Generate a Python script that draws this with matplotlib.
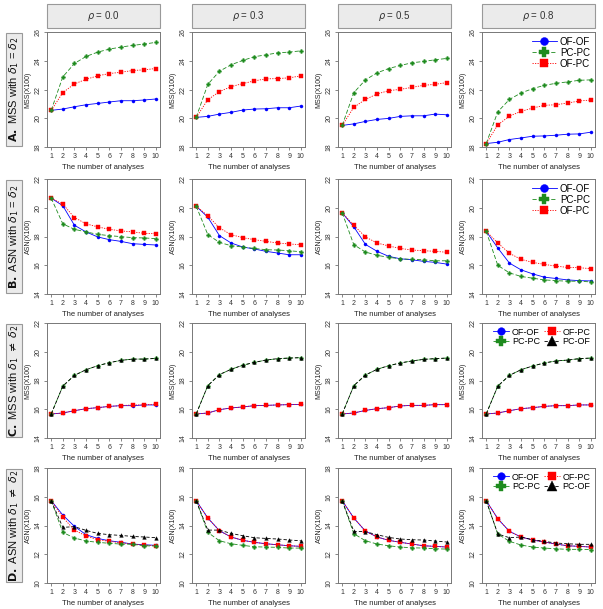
import matplotlib
matplotlib.use("Agg")
import matplotlib.pyplot as plt
from matplotlib.patches import Rectangle
import numpy as np

plt.rcParams['font.family'] = ['Liberation Sans', 'DejaVu Sans']
plt.rcParams['mathtext.fontset'] = 'dejavusans'

x = np.arange(1, 11)
rhos = ["0.0", "0.3", "0.5", "0.8"]

### A. MSS with d1 = d2
a_ofof = [[20.55, 20.64, 20.80, 20.94, 21.03, 21.13, 21.22, 21.22, 21.27, 21.34],
          [20.06, 20.13, 20.29, 20.41, 20.57, 20.64, 20.66, 20.73, 20.73, 20.85],
          [19.50, 19.61, 19.78, 19.92, 19.99, 20.13, 20.17, 20.17, 20.29, 20.24],
          [18.24, 18.33, 18.52, 18.63, 18.75, 18.77, 18.82, 18.89, 18.91, 19.03]]
a_pcpc = [[20.55, 22.88, 23.81, 24.30, 24.60, 24.81, 24.95, 25.07, 25.16, 25.28],
          [20.06, 22.36, 23.27, 23.72, 24.02, 24.28, 24.41, 24.55, 24.60, 24.69],
          [19.50, 21.78, 22.67, 23.16, 23.46, 23.67, 23.86, 23.95, 24.07, 24.16],
          [18.24, 20.45, 21.31, 21.76, 22.06, 22.29, 22.43, 22.53, 22.64, 22.67]]
a_ofpc = [[20.55, 21.78, 22.39, 22.71, 22.95, 23.11, 23.20, 23.32, 23.37, 23.46],
          [20.06, 21.29, 21.85, 22.20, 22.41, 22.60, 22.74, 22.76, 22.81, 22.95],
          [19.50, 20.76, 21.31, 21.69, 21.92, 22.01, 22.15, 22.29, 22.36, 22.48],
          [18.24, 19.54, 20.15, 20.48, 20.71, 20.90, 20.94, 21.06, 21.20, 21.27]]

### B. ASN with d1 = d2
b_ofof = [[20.67, 20.14, 18.78, 18.32, 17.97, 17.78, 17.66, 17.50, 17.45, 17.41],
          [20.11, 19.34, 18.06, 17.55, 17.27, 17.13, 16.97, 16.85, 16.73, 16.73],
          [19.65, 18.67, 17.45, 16.97, 16.62, 16.45, 16.38, 16.27, 16.20, 16.08],
          [18.36, 17.20, 16.15, 15.68, 15.40, 15.17, 15.08, 14.98, 14.93, 14.91]]
b_pcpc = [[20.67, 18.88, 18.50, 18.32, 18.15, 18.06, 17.99, 17.92, 17.90, 17.85],
          [20.11, 18.13, 17.59, 17.36, 17.27, 17.17, 17.08, 17.06, 17.01, 16.94],
          [19.65, 17.43, 16.92, 16.69, 16.55, 16.45, 16.41, 16.38, 16.31, 16.31],
          [18.36, 15.99, 15.47, 15.22, 15.10, 14.98, 14.93, 14.89, 14.89, 14.84]]
b_ofpc = [[20.67, 20.25, 19.32, 18.88, 18.67, 18.50, 18.39, 18.32, 18.22, 18.20],
          [20.11, 19.44, 18.60, 18.13, 17.92, 17.78, 17.66, 17.55, 17.48, 17.43],
          [19.65, 18.78, 17.97, 17.55, 17.34, 17.17, 17.06, 17.01, 16.97, 16.90],
          [18.36, 17.55, 16.83, 16.41, 16.20, 16.06, 15.94, 15.85, 15.83, 15.76]]

### C. MSS with d1 != d2
c_ofof = [[15.67, 15.74, 15.90, 16.04, 16.11, 16.20, 16.25, 16.25, 16.30, 16.30],
          [15.67, 15.74, 15.97, 16.09, 16.16, 16.25, 16.27, 16.30, 16.32, 16.34],
          [15.67, 15.74, 15.92, 16.04, 16.11, 16.23, 16.27, 16.27, 16.32, 16.32],
          [15.67, 15.74, 15.90, 16.04, 16.11, 16.20, 16.25, 16.25, 16.30, 16.30]]
c_ofpc = [[15.67, 15.74, 15.90, 16.04, 16.11, 16.20, 16.25, 16.30, 16.30, 16.36],
          [15.67, 15.74, 15.97, 16.09, 16.16, 16.25, 16.27, 16.30, 16.32, 16.34],
          [15.67, 15.74, 15.92, 16.04, 16.11, 16.23, 16.27, 16.27, 16.32, 16.32],
          [15.67, 15.74, 15.90, 16.04, 16.11, 16.20, 16.25, 16.25, 16.30, 16.30]]
c_pcpc = [[15.67, 17.61, 18.36, 18.75, 19.03, 19.24, 19.40, 19.49, 19.49, 19.54],
          [15.67, 17.64, 18.41, 18.78, 19.06, 19.26, 19.42, 19.52, 19.56, 19.59],
          [15.67, 17.64, 18.38, 18.78, 19.03, 19.22, 19.36, 19.47, 19.52, 19.56],
          [15.67, 17.61, 18.36, 18.75, 19.01, 19.22, 19.36, 19.42, 19.52, 19.56]]
c_pcof = [[15.67, 17.61, 18.36, 18.75, 19.03, 19.24, 19.40, 19.49, 19.49, 19.54],
          [15.67, 17.64, 18.41, 18.78, 19.06, 19.26, 19.42, 19.52, 19.56, 19.59],
          [15.67, 17.64, 18.38, 18.78, 19.03, 19.22, 19.36, 19.47, 19.52, 19.56],
          [15.67, 17.61, 18.36, 18.75, 19.01, 19.22, 19.36, 19.42, 19.52, 19.56]]

### D. ASN with d1 != d2
d_ofof = [[15.73, 14.73, 13.94, 13.36, 13.10, 12.94, 12.83, 12.71, 12.66, 12.62],
          [15.73, 14.52, 13.64, 13.20, 12.97, 12.83, 12.73, 12.66, 12.59, 12.55],
          [15.73, 14.52, 13.61, 13.20, 12.97, 12.83, 12.71, 12.59, 12.55, 12.50],
          [15.73, 14.47, 13.59, 13.20, 12.99, 12.85, 12.71, 12.59, 12.55, 12.50]]
d_ofpc = [[15.73, 14.57, 13.68, 13.27, 13.01, 12.90, 12.80, 12.71, 12.64, 12.59],
          [15.73, 14.52, 13.64, 13.20, 12.97, 12.83, 12.73, 12.66, 12.59, 12.55],
          [15.73, 14.52, 13.61, 13.20, 12.97, 12.83, 12.71, 12.59, 12.55, 12.50],
          [15.73, 14.47, 13.59, 13.20, 12.99, 12.85, 12.71, 12.59, 12.55, 12.50]]
d_pcpc = [[15.73, 13.52, 13.13, 12.92, 12.83, 12.76, 12.71, 12.69, 12.59, 12.57],
          [15.73, 13.52, 12.94, 12.73, 12.62, 12.52, 12.50, 12.48, 12.43, 12.43],
          [15.73, 13.43, 12.94, 12.71, 12.59, 12.50, 12.45, 12.43, 12.38, 12.36],
          [15.73, 13.41, 12.90, 12.64, 12.50, 12.43, 12.38, 12.34, 12.34, 12.32]]
d_pcof = [[15.73, 13.87, 13.92, 13.66, 13.45, 13.36, 13.31, 13.24, 13.20, 13.15],
          [15.73, 13.68, 13.68, 13.45, 13.29, 13.15, 13.10, 13.06, 12.99, 12.94],
          [15.73, 13.59, 13.57, 13.36, 13.17, 13.06, 13.01, 12.99, 12.92, 12.85],
          [15.73, 13.41, 13.15, 13.20, 13.01, 12.90, 12.78, 12.73, 12.69, 12.69]]

row_labels = [r"$\mathbf{A.}$ MSS with $\delta_1$ = $\delta_2$",
              r"$\mathbf{B.}$ ASN with $\delta_1$ = $\delta_2$",
              r"$\mathbf{C.}$ MSS with $\delta_1$ $\neq$ $\delta_2$",
              r"$\mathbf{D.}$ ASN with $\delta_1$ $\neq$ $\delta_2$"]
ylabels = ["MSS(X100)", "ASN(X100)", "MSS(X100)", "ASN(X100)"]
ylims = [(18, 26), (14, 22), (14, 22), (10, 18)]

# style per series: color, linestyle, marker, markersize
sty = {
    "OF-OF": ("#0000FF", "-", "o", 2.2),
    "OF-PC": ("#FF0000", (0, (1.5, 1.5)), "s", 2.2),
    "PC-PC": ("#1E8B1E", (0, (5, 2.5)), "P", 2.8),
    "PC-OF": ("#000000", (0, (4, 2.5)), "^", 2.6),
}

rows = [
    [("OF-OF", a_ofof), ("OF-PC", a_ofpc), ("PC-PC", a_pcpc)],
    [("OF-OF", b_ofof), ("OF-PC", b_ofpc), ("PC-PC", b_pcpc)],
    [("OF-OF", c_ofof), ("OF-PC", c_ofpc), ("PC-PC", c_pcpc), ("PC-OF", c_pcof)],
    [("OF-OF", d_ofof), ("OF-PC", d_ofpc), ("PC-PC", d_pcpc), ("PC-OF", d_pcof)],
]

W, H = 603, 609
fig = plt.figure(figsize=(W / 100, H / 100), dpi=100)

lefts = [47, 192, 338, 482]
tops = [32, 179, 323, 468]
aw, ah = 113, 115
gray = "#555555"

# strips on top
for j, r in enumerate(rhos):
    fig.patches.append(Rectangle((lefts[j] / W, 1 - 28 / H), aw / W, 24 / H,
                                 transform=fig.transFigure, facecolor="#EBEBEB",
                                 edgecolor="#999999", linewidth=0.8))
    fig.text((lefts[j] + aw / 2) / W, 1 - 16 / H, r"$\rho$ = " + r,
             ha="center", va="center", fontsize=7, color="#333333")

for i in range(4):
    # row label box
    fig.patches.append(Rectangle((6 / W, 1 - (tops[i] + ah - 1) / H), 16 / W, (ah - 2) / H,
                                 transform=fig.transFigure, facecolor="#EBEBEB",
                                 edgecolor="#999999", linewidth=0.8))
    fig.text(14 / W, 1 - (tops[i] + ah / 2) / H, row_labels[i], rotation=90,
             ha="center", va="center", fontsize=8, color="#111111")
    for j in range(4):
        ax = fig.add_axes([lefts[j] / W, 1 - (tops[i] + ah) / H, aw / W, ah / H])
        handles = {}
        for name, data in rows[i]:
            c, ls, mk, ms = sty[name]
            ln, = ax.plot(x, data[j], color=c, linestyle=ls, linewidth=0.6,
                          marker=mk, markersize=ms, markeredgewidth=0.3, label=name)
            handles[name] = ln
        ax.set_xlim(0.64, 10.36)
        ax.set_ylim(*ylims[i])
        lo, hi = ylims[i]
        ax.set_xticks(x)
        ax.set_yticks(np.arange(lo, hi + 1, 2))
        ax.tick_params(axis="both", labelsize=5, length=2.5, width=0.5,
                       color=gray, labelcolor="#333333", pad=1.5)
        ax.tick_params(axis="y", labelrotation=90)
        for lab in ax.get_yticklabels():
            lab.set_va("center")
        for s in ax.spines.values():
            s.set_color("#777777")
            s.set_linewidth(0.7)
        ax.set_ylabel(ylabels[i], fontsize=5, labelpad=2, color="#222222")
        ax.set_xlabel("The number of analyses", fontsize=5.5, labelpad=3, color="#222222")
        if j == 3:
            if i < 2:
                order = ["OF-OF", "PC-PC", "OF-PC"]
                ax.legend([handles[k] for k in order], order, loc="upper right",
                          frameon=False, fontsize=7, handlelength=2.6,
                          handletextpad=0.3, labelspacing=0.1, borderaxespad=0.1,
                          markerscale=2.6)
            else:
                order = ["OF-OF", "PC-PC", "OF-PC", "PC-OF"]
                ax.legend([handles[k] for k in order], order, loc="upper right",
                          ncol=2, frameon=False, fontsize=6.5, handlelength=1.8,
                          handletextpad=0.3, labelspacing=0.1, columnspacing=0.4,
                          borderaxespad=0.1, markerscale=2.5)

fig.savefig("out.png", dpi=100)
